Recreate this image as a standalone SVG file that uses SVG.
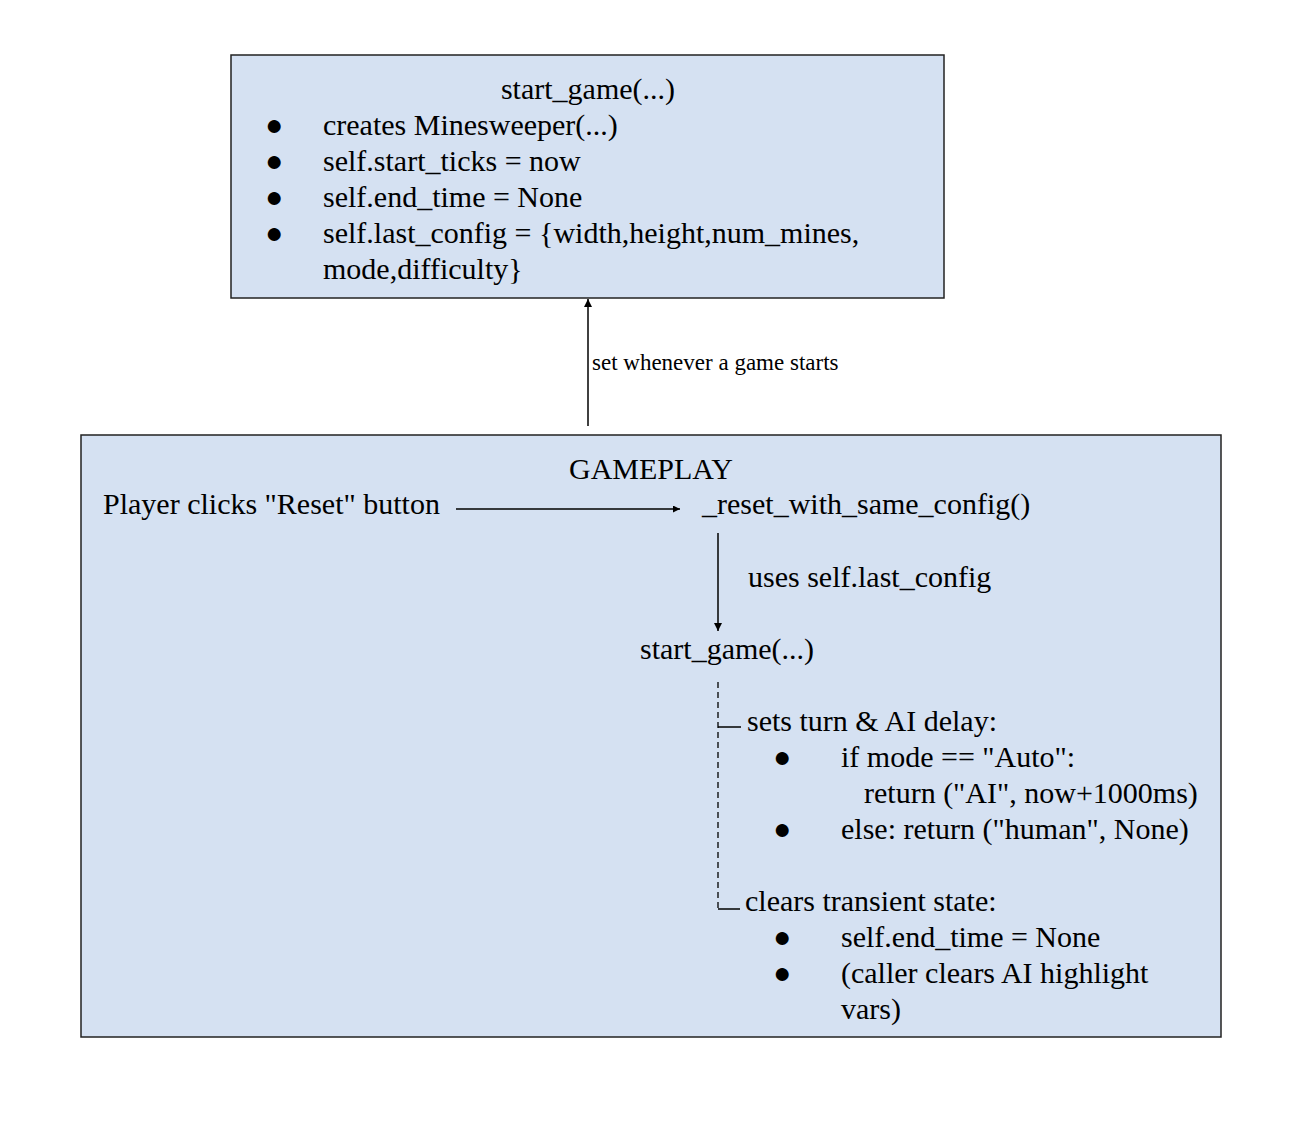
<svg xmlns="http://www.w3.org/2000/svg" width="1312" height="1138" viewBox="0 0 1312 1138">
<defs>
<style>
.box{fill:#d5e1f2;stroke:#222;stroke-width:1.5}
.t{font-family:"Liberation Serif","Times New Roman",serif;font-size:30px;fill:#000}
.s{font-family:"Liberation Serif","Times New Roman",serif;font-size:23px;fill:#000}
.ln{stroke:#000;stroke-width:1.5;fill:none}
.dash{stroke:#000;stroke-width:1.3;fill:none;stroke-dasharray:6,4}
</style>
<marker id="ah" viewBox="0 0 10 10" refX="10" refY="5" markerWidth="7" markerHeight="7" markerUnits="userSpaceOnUse" orient="auto"><path d="M0,0 L10,5 L0,10 z" fill="#000"/></marker>
<marker id="ah2" viewBox="0 0 10 10" refX="10" refY="5" markerWidth="10" markerHeight="8" markerUnits="userSpaceOnUse" orient="auto"><path d="M0,0 L10,5 L0,10 z" fill="#000"/></marker>
</defs>
<rect width="1312" height="1138" fill="#fff"/>
<g id="top-box">
<rect class="box" x="231" y="55" width="713" height="243"/>
<text class="t" x="588" y="99" text-anchor="middle">start_game(...)</text>
<text class="t" x="265" y="135">●</text><text class="t" x="323" y="135">creates Minesweeper(...)</text>
<text class="t" x="265" y="171">●</text><text class="t" x="323" y="171">self.start_ticks = now</text>
<text class="t" x="265" y="207">●</text><text class="t" x="323" y="207">self.end_time = None</text>
<text class="t" x="265" y="243">●</text><text class="t" x="323" y="243">self.last_config = {width,height,num_mines,</text>
<text class="t" x="323" y="279">mode,difficulty}</text>
</g>
<g id="gameplay-box">
<rect class="box" x="81" y="435" width="1140" height="602"/>
<text class="t" x="651" y="479" text-anchor="middle">GAMEPLAY</text>
</g>
<g id="player-click"><text class="t" x="103" y="514">Player clicks "Reset" button</text></g>
<g id="reset-fn"><text class="t" x="702" y="514">_reset_with_same_config()</text></g>
<g id="start-game-inner"><text class="t" x="640" y="659">start_game(...)</text></g>
<g id="turn-delay">
<text class="t" x="747" y="731">sets turn &amp; AI delay:</text>
<text class="t" x="773" y="767">●</text><text class="t" x="841" y="767">if mode == "Auto":</text>
<text class="t" x="864" y="803">return ("AI", now+1000ms)</text>
<text class="t" x="773" y="839">●</text><text class="t" x="841" y="839">else: return ("human", None)</text>
</g>
<g id="clear-state">
<text class="t" x="745" y="911">clears transient state:</text>
<text class="t" x="773" y="947">●</text><text class="t" x="841" y="947">self.end_time = None</text>
<text class="t" x="773" y="983">●</text><text class="t" x="841" y="983">(caller clears AI highlight</text>
<text class="t" x="841" y="1019">vars)</text>
</g>
<g id="connectors">
<line class="ln" x1="588" y1="426" x2="588" y2="299" marker-end="url(#ah2)"/>
<text class="s" x="592" y="370">set whenever a game starts</text>
<line class="ln" x1="456" y1="509" x2="680" y2="509" marker-end="url(#ah)"/>
<line class="ln" x1="718" y1="533" x2="718" y2="631" marker-end="url(#ah2)"/>
<text class="t" x="748" y="587">uses self.last_config</text>
<line class="dash" x1="718" y1="682" x2="718" y2="909"/>
<line class="ln" x1="718" y1="727" x2="741" y2="727"/>
<line class="ln" x1="718" y1="909" x2="740" y2="909"/>
</g>
</svg>
